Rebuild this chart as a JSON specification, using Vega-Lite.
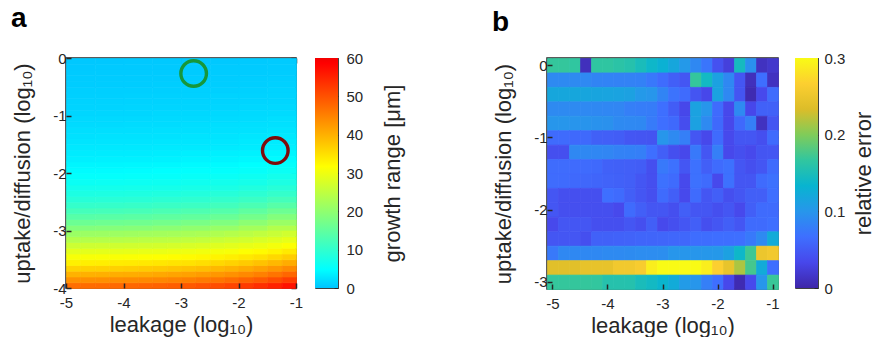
{
  "$schema": "https://vega.github.io/schema/vega-lite/v6.json",
  "padding": {"left": 10, "top": 5, "right": 0, "bottom": 0},
  "background": "white",
  "config": {
    "font": "Liberation Sans",
    "view": {"stroke": "#262626", "strokeWidth": 1.5},
    "axis": {"grid": false, "domain": false, "tickSize": -5, "tickWidth": 1.5, "tickColor": "#262626", "labelFontSize": 15, "labelColor": "#262626", "titleFontSize": 22, "titleFontWeight": "normal", "titleColor": "#262626", "labelFlush": false, "labelOverlap": false},
    "title": {"fontSize": 28, "fontWeight": "bold", "anchor": "start", "color": "black"}
  },
  "spacing": 86,
  "hconcat": [
    {
      "title": {"text": "a", "offset": 17},
      "spacing": 10,
      "hconcat": [
        {
          "width": 230,
          "height": 230,
          "layer": [
            {
              "data": {"values": [
{"x":-4.75,"y":-2.95,"v":18.6},{"x":-4.25,"y":-2.95,"v":18.8},{"x":-3.75,"y":-2.95,"v":19.1},{"x":-3.25,"y":-2.95,"v":19.6},{"x":-2.75,"y":-2.95,"v":20.1},{"x":-2.25,"y":-2.95,"v":20.8},{"x":-1.75,"y":-2.95,"v":22.1},{"x":-1.25,"y":-2.95,"v":23.7},
{"x":-4.75,"y":-2.85,"v":16.2},{"x":-4.25,"y":-2.85,"v":16.4},{"x":-3.75,"y":-2.85,"v":16.6},{"x":-3.25,"y":-2.85,"v":17.1},{"x":-2.75,"y":-2.85,"v":17.6},{"x":-2.25,"y":-2.85,"v":18.3},{"x":-1.75,"y":-2.85,"v":19.6},{"x":-1.25,"y":-2.85,"v":21.1},
{"x":-4.75,"y":-2.75,"v":14},{"x":-4.25,"y":-2.75,"v":14.2},{"x":-3.75,"y":-2.75,"v":14.4},{"x":-3.25,"y":-2.75,"v":14.8},{"x":-2.75,"y":-2.75,"v":15.2},{"x":-2.25,"y":-2.75,"v":15.9},{"x":-1.75,"y":-2.75,"v":17.1},{"x":-1.25,"y":-2.75,"v":18.6},
{"x":-4.75,"y":-2.65,"v":12},{"x":-4.25,"y":-2.65,"v":12.1},{"x":-3.75,"y":-2.65,"v":12.3},{"x":-3.25,"y":-2.65,"v":12.7},{"x":-2.75,"y":-2.65,"v":13.1},{"x":-2.25,"y":-2.65,"v":13.7},{"x":-1.75,"y":-2.65,"v":14.8},{"x":-1.25,"y":-2.65,"v":16.2},
{"x":-4.75,"y":-2.55,"v":10.3},{"x":-4.25,"y":-2.55,"v":10.4},{"x":-3.75,"y":-2.55,"v":10.6},{"x":-3.25,"y":-2.55,"v":10.9},{"x":-2.75,"y":-2.55,"v":11.2},{"x":-2.25,"y":-2.55,"v":11.8},{"x":-1.75,"y":-2.55,"v":12.7},{"x":-1.25,"y":-2.55,"v":14},
{"x":-4.75,"y":-2.45,"v":9},{"x":-4.25,"y":-2.45,"v":9.1},{"x":-3.75,"y":-2.45,"v":9.2},{"x":-3.25,"y":-2.45,"v":9.5},{"x":-2.75,"y":-2.45,"v":9.7},{"x":-2.25,"y":-2.45,"v":10.2},{"x":-1.75,"y":-2.45,"v":10.9},{"x":-1.25,"y":-2.45,"v":12},
{"x":-4.75,"y":-2.35,"v":7.8},{"x":-4.25,"y":-2.35,"v":7.9},{"x":-3.75,"y":-2.35,"v":8},{"x":-3.25,"y":-2.35,"v":8.2},{"x":-2.75,"y":-2.35,"v":8.4},{"x":-2.25,"y":-2.35,"v":8.8},{"x":-1.75,"y":-2.35,"v":9.5},{"x":-1.25,"y":-2.35,"v":10.3},
{"x":-4.75,"y":-2.25,"v":6.8},{"x":-4.25,"y":-2.25,"v":6.8},{"x":-3.75,"y":-2.25,"v":6.9},{"x":-3.25,"y":-2.25,"v":7.1},{"x":-2.75,"y":-2.25,"v":7.3},{"x":-2.25,"y":-2.25,"v":7.6},{"x":-1.75,"y":-2.25,"v":8.2},{"x":-1.25,"y":-2.25,"v":9},
{"x":-4.75,"y":-2.15,"v":5.9},{"x":-4.25,"y":-2.15,"v":6},{"x":-3.75,"y":-2.15,"v":6.1},{"x":-3.25,"y":-2.15,"v":6.2},{"x":-2.75,"y":-2.15,"v":6.4},{"x":-2.25,"y":-2.15,"v":6.7},{"x":-1.75,"y":-2.15,"v":7.1},{"x":-1.25,"y":-2.15,"v":7.8},
{"x":-4.75,"y":-2.05,"v":5.2},{"x":-4.25,"y":-2.05,"v":5.2},{"x":-3.75,"y":-2.05,"v":5.3},{"x":-3.25,"y":-2.05,"v":5.4},{"x":-2.75,"y":-2.05,"v":5.6},{"x":-2.25,"y":-2.05,"v":5.8},{"x":-1.75,"y":-2.05,"v":6.2},{"x":-1.25,"y":-2.05,"v":6.8},
{"x":-4.75,"y":-1.95,"v":4.6},{"x":-4.25,"y":-1.95,"v":4.6},{"x":-3.75,"y":-1.95,"v":4.7},{"x":-3.25,"y":-1.95,"v":4.8},{"x":-2.75,"y":-1.95,"v":4.9},{"x":-2.25,"y":-1.95,"v":5.1},{"x":-1.75,"y":-1.95,"v":5.4},{"x":-1.25,"y":-1.95,"v":5.9},
{"x":-4.75,"y":-1.85,"v":4.1},{"x":-4.25,"y":-1.85,"v":4.1},{"x":-3.75,"y":-1.85,"v":4.2},{"x":-3.25,"y":-1.85,"v":4.3},{"x":-2.75,"y":-1.85,"v":4.4},{"x":-2.25,"y":-1.85,"v":4.5},{"x":-1.75,"y":-1.85,"v":4.8},{"x":-1.25,"y":-1.85,"v":5.2},
{"x":-4.75,"y":-1.75,"v":3.6},{"x":-4.25,"y":-1.75,"v":3.7},{"x":-3.75,"y":-1.75,"v":3.7},{"x":-3.25,"y":-1.75,"v":3.8},{"x":-2.75,"y":-1.75,"v":3.9},{"x":-2.25,"y":-1.75,"v":4},{"x":-1.75,"y":-1.75,"v":4.3},{"x":-1.25,"y":-1.75,"v":4.6},
{"x":-4.75,"y":-1.65,"v":3.3},{"x":-4.25,"y":-1.65,"v":3.3},{"x":-3.75,"y":-1.65,"v":3.3},{"x":-3.25,"y":-1.65,"v":3.4},{"x":-2.75,"y":-1.65,"v":3.5},{"x":-2.25,"y":-1.65,"v":3.6},{"x":-1.75,"y":-1.65,"v":3.8},{"x":-1.25,"y":-1.65,"v":4.1},
{"x":-4.75,"y":-1.55,"v":3},{"x":-4.25,"y":-1.55,"v":3},{"x":-3.75,"y":-1.55,"v":3},{"x":-3.25,"y":-1.55,"v":3.1},{"x":-2.75,"y":-1.55,"v":3.1},{"x":-2.25,"y":-1.55,"v":3.2},{"x":-1.75,"y":-1.55,"v":3.4},{"x":-1.25,"y":-1.55,"v":3.6},
{"x":-4.75,"y":-1.45,"v":2.7},{"x":-4.25,"y":-1.45,"v":2.7},{"x":-3.75,"y":-1.45,"v":2.7},{"x":-3.25,"y":-1.45,"v":2.8},{"x":-2.75,"y":-1.45,"v":2.8},{"x":-2.25,"y":-1.45,"v":2.9},{"x":-1.75,"y":-1.45,"v":3.1},{"x":-1.25,"y":-1.45,"v":3.3},
{"x":-4.75,"y":-1.35,"v":2.4},{"x":-4.25,"y":-1.35,"v":2.5},{"x":-3.75,"y":-1.35,"v":2.5},{"x":-3.25,"y":-1.35,"v":2.5},{"x":-2.75,"y":-1.35,"v":2.6},{"x":-2.25,"y":-1.35,"v":2.6},{"x":-1.75,"y":-1.35,"v":2.8},{"x":-1.25,"y":-1.35,"v":3},
{"x":-4.75,"y":-1.25,"v":2.2},{"x":-4.25,"y":-1.25,"v":2.2},{"x":-3.75,"y":-1.25,"v":2.2},{"x":-3.25,"y":-1.25,"v":2.3},{"x":-2.75,"y":-1.25,"v":2.3},{"x":-2.25,"y":-1.25,"v":2.4},{"x":-1.75,"y":-1.25,"v":2.5},{"x":-1.25,"y":-1.25,"v":2.7},
{"x":-4.75,"y":-1.15,"v":1.9},{"x":-4.25,"y":-1.15,"v":1.9},{"x":-3.75,"y":-1.15,"v":2},{"x":-3.25,"y":-1.15,"v":2},{"x":-2.75,"y":-1.15,"v":2.1},{"x":-2.25,"y":-1.15,"v":2.2},{"x":-1.75,"y":-1.15,"v":2.3},{"x":-1.25,"y":-1.15,"v":2.4},
{"x":-4.75,"y":-1.05,"v":1.7},{"x":-4.25,"y":-1.05,"v":1.7},{"x":-3.75,"y":-1.05,"v":1.7},{"x":-3.25,"y":-1.05,"v":1.8},{"x":-2.75,"y":-1.05,"v":1.8},{"x":-2.25,"y":-1.05,"v":1.9},{"x":-1.75,"y":-1.05,"v":2},{"x":-1.25,"y":-1.05,"v":2.2},
{"x":-4.75,"y":-0.95,"v":1.5},{"x":-4.25,"y":-0.95,"v":1.5},{"x":-3.75,"y":-0.95,"v":1.5},{"x":-3.25,"y":-0.95,"v":1.6},{"x":-2.75,"y":-0.95,"v":1.6},{"x":-2.25,"y":-0.95,"v":1.7},{"x":-1.75,"y":-0.95,"v":1.8},{"x":-1.25,"y":-0.95,"v":1.9},
{"x":-4.75,"y":-0.85,"v":1.3},{"x":-4.25,"y":-0.85,"v":1.3},{"x":-3.75,"y":-0.85,"v":1.4},{"x":-3.25,"y":-0.85,"v":1.4},{"x":-2.75,"y":-0.85,"v":1.4},{"x":-2.25,"y":-0.85,"v":1.5},{"x":-1.75,"y":-0.85,"v":1.6},{"x":-1.25,"y":-0.85,"v":1.7},
{"x":-4.75,"y":-0.75,"v":1.2},{"x":-4.25,"y":-0.75,"v":1.2},{"x":-3.75,"y":-0.75,"v":1.2},{"x":-3.25,"y":-0.75,"v":1.2},{"x":-2.75,"y":-0.75,"v":1.3},{"x":-2.25,"y":-0.75,"v":1.3},{"x":-1.75,"y":-0.75,"v":1.4},{"x":-1.25,"y":-0.75,"v":1.5},
{"x":-4.75,"y":-0.65,"v":1},{"x":-4.25,"y":-0.65,"v":1},{"x":-3.75,"y":-0.65,"v":1.1},{"x":-3.25,"y":-0.65,"v":1.1},{"x":-2.75,"y":-0.65,"v":1.1},{"x":-2.25,"y":-0.65,"v":1.2},{"x":-1.75,"y":-0.65,"v":1.2},{"x":-1.25,"y":-0.65,"v":1.3},
{"x":-4.75,"y":-0.55,"v":0.9},{"x":-4.25,"y":-0.55,"v":0.9},{"x":-3.75,"y":-0.55,"v":0.9},{"x":-3.25,"y":-0.55,"v":0.9},{"x":-2.75,"y":-0.55,"v":1},{"x":-2.25,"y":-0.55,"v":1},{"x":-1.75,"y":-0.55,"v":1.1},{"x":-1.25,"y":-0.55,"v":1.2},
{"x":-4.75,"y":-0.45,"v":0.75},{"x":-4.25,"y":-0.45,"v":0.76},{"x":-3.75,"y":-0.45,"v":0.77},{"x":-3.25,"y":-0.45,"v":0.79},{"x":-2.75,"y":-0.45,"v":0.81},{"x":-2.25,"y":-0.45,"v":0.86},{"x":-1.75,"y":-0.45,"v":0.93},{"x":-1.25,"y":-0.45,"v":1.03},
{"x":-4.75,"y":-0.35,"v":0.65},{"x":-4.25,"y":-0.35,"v":0.66},{"x":-3.75,"y":-0.35,"v":0.67},{"x":-3.25,"y":-0.35,"v":0.69},{"x":-2.75,"y":-0.35,"v":0.71},{"x":-2.25,"y":-0.35,"v":0.74},{"x":-1.75,"y":-0.35,"v":0.79},{"x":-1.25,"y":-0.35,"v":0.88},
{"x":-4.75,"y":-0.25,"v":0.55},{"x":-4.25,"y":-0.25,"v":0.56},{"x":-3.75,"y":-0.25,"v":0.57},{"x":-3.25,"y":-0.25,"v":0.59},{"x":-2.75,"y":-0.25,"v":0.61},{"x":-2.25,"y":-0.25,"v":0.64},{"x":-1.75,"y":-0.25,"v":0.69},{"x":-1.25,"y":-0.25,"v":0.75},
{"x":-4.75,"y":-0.15,"v":0.45},{"x":-4.25,"y":-0.15,"v":0.46},{"x":-3.75,"y":-0.15,"v":0.47},{"x":-3.25,"y":-0.15,"v":0.49},{"x":-2.75,"y":-0.15,"v":0.51},{"x":-2.25,"y":-0.15,"v":0.54},{"x":-1.75,"y":-0.15,"v":0.59},{"x":-1.25,"y":-0.15,"v":0.65},
{"x":-4.75,"y":-0.05,"v":0.35},{"x":-4.25,"y":-0.05,"v":0.36},{"x":-3.75,"y":-0.05,"v":0.37},{"x":-3.25,"y":-0.05,"v":0.39},{"x":-2.75,"y":-0.05,"v":0.41},{"x":-2.25,"y":-0.05,"v":0.44},{"x":-1.75,"y":-0.05,"v":0.49},{"x":-1.25,"y":-0.05,"v":0.55}
              ]},
              "mark": {"type": "rect", "binSpacing": 0, "strokeWidth": 0.7},
              "encoding": {
                "x": {"field": "x", "type": "quantitative", "bin": {"step": 0.5, "anchor": -5, "extent": [-5.5, -0.5]}, "scale": {"domain": [-5, -1], "nice": false, "zero": false}, "axis": {"values": [-5, -4, -3, -2, -1], "title": "leakage (log₁₀)", "labelExpr": "'' + datum.value", "labelPadding": 12, "titlePadding": 4}},
                "y": {"field": "y", "type": "quantitative", "bin": {"step": 0.1, "anchor": -4, "extent": [-4.2, 0.2]}, "scale": {"domain": [-4, 0], "nice": false, "zero": false}, "axis": {"values": [-4, -3, -2, -1, 0], "title": "uptake/diffusion (log₁₀)", "labelExpr": "'' + datum.value", "labelPadding": 5, "titlePadding": 18}},
                "color": {"field": "v", "type": "quantitative", "scale": {"domain": [0, 4.84, 31.7, 58.6, 60], "range": ["#00c4ff", "#00ffff", "#ffff00", "#ff0000", "#f20000"], "interpolate": "rgb"}, "legend": null},
                "stroke": {"field": "v", "type": "quantitative", "scale": {"domain": [0, 4.84, 31.7, 58.6, 60], "range": ["#00c4ff", "#00ffff", "#ffff00", "#ff0000", "#f20000"], "interpolate": "rgb"}, "legend": null}
              }
            },
            {
              "data": {"values": [
{"x":-4.875,"y":-3.95,"v":47},{"x":-4.625,"y":-3.95,"v":47.2},{"x":-4.375,"y":-3.95,"v":47.3},{"x":-4.125,"y":-3.95,"v":47.5},{"x":-3.875,"y":-3.95,"v":47.7},{"x":-3.625,"y":-3.95,"v":48},{"x":-3.375,"y":-3.95,"v":48.3},{"x":-3.125,"y":-3.95,"v":48.7},{"x":-2.875,"y":-3.95,"v":49.2},{"x":-2.625,"y":-3.95,"v":49.8},{"x":-2.375,"y":-3.95,"v":50.5},{"x":-2.125,"y":-3.95,"v":51.3},{"x":-1.875,"y":-3.95,"v":52.4},{"x":-1.625,"y":-3.95,"v":53.6},{"x":-1.375,"y":-3.95,"v":55},{"x":-1.125,"y":-3.95,"v":56.7},
{"x":-4.875,"y":-3.85,"v":43.3},{"x":-4.625,"y":-3.85,"v":43.4},{"x":-4.375,"y":-3.85,"v":43.5},{"x":-4.125,"y":-3.85,"v":43.7},{"x":-3.875,"y":-3.85,"v":43.9},{"x":-3.625,"y":-3.85,"v":44.1},{"x":-3.375,"y":-3.85,"v":44.4},{"x":-3.125,"y":-3.85,"v":44.8},{"x":-2.875,"y":-3.85,"v":45.2},{"x":-2.625,"y":-3.85,"v":45.7},{"x":-2.375,"y":-3.85,"v":46.3},{"x":-2.125,"y":-3.85,"v":47.1},{"x":-1.875,"y":-3.85,"v":48},{"x":-1.625,"y":-3.85,"v":49.1},{"x":-1.375,"y":-3.85,"v":50.5},{"x":-1.125,"y":-3.85,"v":52.2},
{"x":-4.875,"y":-3.75,"v":39.8},{"x":-4.625,"y":-3.75,"v":39.9},{"x":-4.375,"y":-3.75,"v":40},{"x":-4.125,"y":-3.75,"v":40.2},{"x":-3.875,"y":-3.75,"v":40.4},{"x":-3.625,"y":-3.75,"v":40.6},{"x":-3.375,"y":-3.75,"v":40.9},{"x":-3.125,"y":-3.75,"v":41.3},{"x":-2.875,"y":-3.75,"v":41.6},{"x":-2.625,"y":-3.75,"v":42.1},{"x":-2.375,"y":-3.75,"v":42.7},{"x":-2.125,"y":-3.75,"v":43.3},{"x":-1.875,"y":-3.75,"v":44.1},{"x":-1.625,"y":-3.75,"v":45.1},{"x":-1.375,"y":-3.75,"v":46.4},{"x":-1.125,"y":-3.75,"v":47.8},
{"x":-4.875,"y":-3.65,"v":36.3},{"x":-4.625,"y":-3.65,"v":36.4},{"x":-4.375,"y":-3.65,"v":36.6},{"x":-4.125,"y":-3.65,"v":36.7},{"x":-3.875,"y":-3.65,"v":36.9},{"x":-3.625,"y":-3.65,"v":37.2},{"x":-3.375,"y":-3.65,"v":37.4},{"x":-3.125,"y":-3.65,"v":37.8},{"x":-2.875,"y":-3.65,"v":38.1},{"x":-2.625,"y":-3.65,"v":38.6},{"x":-2.375,"y":-3.65,"v":39.2},{"x":-2.125,"y":-3.65,"v":39.8},{"x":-1.875,"y":-3.65,"v":40.6},{"x":-1.625,"y":-3.65,"v":41.6},{"x":-1.375,"y":-3.65,"v":42.7},{"x":-1.125,"y":-3.65,"v":44},
{"x":-4.875,"y":-3.55,"v":33.3},{"x":-4.625,"y":-3.55,"v":33.4},{"x":-4.375,"y":-3.55,"v":33.5},{"x":-4.125,"y":-3.55,"v":33.7},{"x":-3.875,"y":-3.55,"v":33.8},{"x":-3.625,"y":-3.55,"v":34},{"x":-3.375,"y":-3.55,"v":34.2},{"x":-3.125,"y":-3.55,"v":34.5},{"x":-2.875,"y":-3.55,"v":34.8},{"x":-2.625,"y":-3.55,"v":35.2},{"x":-2.375,"y":-3.55,"v":35.8},{"x":-2.125,"y":-3.55,"v":36.4},{"x":-1.875,"y":-3.55,"v":37.2},{"x":-1.625,"y":-3.55,"v":38.1},{"x":-1.375,"y":-3.55,"v":39.2},{"x":-1.125,"y":-3.55,"v":40.5},
{"x":-4.875,"y":-3.45,"v":30.9},{"x":-4.625,"y":-3.45,"v":31},{"x":-4.375,"y":-3.45,"v":31.1},{"x":-4.125,"y":-3.45,"v":31.2},{"x":-3.875,"y":-3.45,"v":31.3},{"x":-3.625,"y":-3.45,"v":31.5},{"x":-3.375,"y":-3.45,"v":31.6},{"x":-3.125,"y":-3.45,"v":31.9},{"x":-2.875,"y":-3.45,"v":32.1},{"x":-2.625,"y":-3.45,"v":32.4},{"x":-2.375,"y":-3.45,"v":32.9},{"x":-2.125,"y":-3.45,"v":33.4},{"x":-1.875,"y":-3.45,"v":34},{"x":-1.625,"y":-3.45,"v":34.8},{"x":-1.375,"y":-3.45,"v":35.8},{"x":-1.125,"y":-3.45,"v":37},
{"x":-4.875,"y":-3.35,"v":28.7},{"x":-4.625,"y":-3.35,"v":28.8},{"x":-4.375,"y":-3.35,"v":28.9},{"x":-4.125,"y":-3.35,"v":29},{"x":-3.875,"y":-3.35,"v":29.1},{"x":-3.625,"y":-3.35,"v":29.3},{"x":-3.375,"y":-3.35,"v":29.4},{"x":-3.125,"y":-3.35,"v":29.7},{"x":-2.875,"y":-3.35,"v":29.9},{"x":-2.625,"y":-3.35,"v":30.2},{"x":-2.375,"y":-3.35,"v":30.5},{"x":-2.125,"y":-3.35,"v":30.9},{"x":-1.875,"y":-3.35,"v":31.5},{"x":-1.625,"y":-3.35,"v":32.1},{"x":-1.375,"y":-3.35,"v":32.9},{"x":-1.125,"y":-3.35,"v":33.9},
{"x":-4.875,"y":-3.25,"v":26.3},{"x":-4.625,"y":-3.25,"v":26.4},{"x":-4.375,"y":-3.25,"v":26.5},{"x":-4.125,"y":-3.25,"v":26.6},{"x":-3.875,"y":-3.25,"v":26.7},{"x":-3.625,"y":-3.25,"v":26.9},{"x":-3.375,"y":-3.25,"v":27.1},{"x":-3.125,"y":-3.25,"v":27.3},{"x":-2.875,"y":-3.25,"v":27.6},{"x":-2.625,"y":-3.25,"v":27.9},{"x":-2.375,"y":-3.25,"v":28.3},{"x":-2.125,"y":-3.25,"v":28.7},{"x":-1.875,"y":-3.25,"v":29.3},{"x":-1.625,"y":-3.25,"v":29.8},{"x":-1.375,"y":-3.25,"v":30.5},{"x":-1.125,"y":-3.25,"v":31.4},
{"x":-4.875,"y":-3.15,"v":23.7},{"x":-4.625,"y":-3.15,"v":23.8},{"x":-4.375,"y":-3.15,"v":23.9},{"x":-4.125,"y":-3.15,"v":24},{"x":-3.875,"y":-3.15,"v":24.2},{"x":-3.625,"y":-3.15,"v":24.4},{"x":-3.375,"y":-3.15,"v":24.6},{"x":-3.125,"y":-3.15,"v":24.8},{"x":-2.875,"y":-3.15,"v":25.1},{"x":-2.625,"y":-3.15,"v":25.4},{"x":-2.375,"y":-3.15,"v":25.9},{"x":-2.125,"y":-3.15,"v":26.4},{"x":-1.875,"y":-3.15,"v":26.9},{"x":-1.625,"y":-3.15,"v":27.6},{"x":-1.375,"y":-3.15,"v":28.3},{"x":-1.125,"y":-3.15,"v":29.2},
{"x":-4.875,"y":-3.05,"v":21.1},{"x":-4.625,"y":-3.05,"v":21.2},{"x":-4.375,"y":-3.05,"v":21.3},{"x":-4.125,"y":-3.05,"v":21.4},{"x":-3.875,"y":-3.05,"v":21.6},{"x":-3.625,"y":-3.05,"v":21.8},{"x":-3.375,"y":-3.05,"v":22},{"x":-3.125,"y":-3.05,"v":22.2},{"x":-2.875,"y":-3.05,"v":22.5},{"x":-2.625,"y":-3.05,"v":22.8},{"x":-2.375,"y":-3.05,"v":23.3},{"x":-2.125,"y":-3.05,"v":23.8},{"x":-1.875,"y":-3.05,"v":24.4},{"x":-1.625,"y":-3.05,"v":25.1},{"x":-1.375,"y":-3.05,"v":25.9},{"x":-1.125,"y":-3.05,"v":26.8}
              ]},
              "mark": {"type": "rect", "binSpacing": 0, "strokeWidth": 0.7},
              "encoding": {
                "x": {"field": "x", "type": "quantitative", "bin": {"step": 0.25, "anchor": -5, "extent": [-5.5, -0.5]}, "scale": {"domain": [-5, -1], "nice": false, "zero": false}, "axis": null},
                "y": {"field": "y", "type": "quantitative", "bin": {"step": 0.1, "anchor": -4, "extent": [-4.2, 0.2]}, "scale": {"domain": [-4, 0], "nice": false, "zero": false}, "axis": null},
                "color": {"field": "v", "type": "quantitative", "scale": {"domain": [0, 4.84, 31.7, 58.6, 60], "range": ["#00c4ff", "#00ffff", "#ffff00", "#ff0000", "#f20000"], "interpolate": "rgb"}, "legend": null},
                "stroke": {"field": "v", "type": "quantitative", "scale": {"domain": [0, 4.84, 31.7, 58.6, 60], "range": ["#00c4ff", "#00ffff", "#ffff00", "#ff0000", "#f20000"], "interpolate": "rgb"}, "legend": null}
              }
            },
            {
              "data": {"values": [{"x": -2.78, "y": -0.27}]},
              "mark": {"type": "point", "shape": "circle", "filled": false, "size": 655, "strokeWidth": 3.4, "stroke": "#17973a", "opacity": 1},
              "encoding": {
                "x": {"field": "x", "type": "quantitative", "scale": {"domain": [-5, -1], "nice": false, "zero": false}, "axis": {"orient": "top", "values": [-5, -4, -3, -2, -1], "labels": false, "title": null}},
                "y": {"field": "y", "type": "quantitative", "scale": {"domain": [-4, 0], "nice": false, "zero": false}, "axis": {"orient": "right", "values": [-4, -3, -2, -1, 0], "labels": false, "title": null}}
              }
            },
            {
              "data": {"values": [{"x": -1.36, "y": -1.61}]},
              "mark": {"type": "point", "shape": "circle", "filled": false, "size": 655, "strokeWidth": 3.4, "stroke": "#7e0b0b", "opacity": 1},
              "encoding": {
                "x": {"field": "x", "type": "quantitative", "scale": {"domain": [-5, -1], "nice": false, "zero": false}, "axis": null},
                "y": {"field": "y", "type": "quantitative", "scale": {"domain": [-4, 0], "nice": false, "zero": false}, "axis": null}
              }
            }
          ],
          "resolve": {"axis": {"x": "independent", "y": "independent"}}
        },
        {
          "width": 23,
          "height": 230,
          "view": {"stroke": "#404040", "strokeWidth": 1},
          "data": {"values": [{"lo": 0, "hi": 60}]},
          "mark": {"type": "rect", "color": {"gradient": "linear", "x1": 0, "y1": 1, "x2": 0, "y2": 0, "stops": [{"offset": 0, "color": "#00c4ff"}, {"offset": 0.0807, "color": "#00ffff"}, {"offset": 0.5283, "color": "#ffff00"}, {"offset": 0.9767, "color": "#ff0000"}, {"offset": 1, "color": "#f20000"}]}},
          "encoding": {
            "y": {"field": "lo", "type": "quantitative", "scale": {"domain": [0, 60], "nice": false, "zero": false}, "axis": {"orient": "right", "values": [0, 10, 20, 30, 40, 50, 60], "title": "growth range [μm]", "titleAngle": 270, "titleBaseline": "top", "titleAlign": "center", "tickSize": -4, "tickWidth": 1, "labelPadding": 12, "titlePadding": 20}},
            "y2": {"field": "hi"}
          }
        }
      ]
    },
    {
      "title": {"text": "b", "offset": 14},
      "spacing": 14,
      "hconcat": [
        {
          "width": 231,
          "height": 231,
          "data": {"values": [
{"x":-5,"y":0,"v":0.168},{"x":-4.8,"y":0,"v":0.168},{"x":-4.6,"y":0,"v":0.166},{"x":-4.4,"y":0,"v":0.01},{"x":-4.2,"y":0,"v":0.165},{"x":-4,"y":0,"v":0.165},{"x":-3.8,"y":0,"v":0.162},{"x":-3.6,"y":0,"v":0.158},{"x":-3.4,"y":0,"v":0.148},{"x":-3.2,"y":0,"v":0.138},{"x":-3,"y":0,"v":0.13},{"x":-2.8,"y":0,"v":0.118},{"x":-2.6,"y":0,"v":0.103},{"x":-2.4,"y":0,"v":0.088},{"x":-2.2,"y":0,"v":0.072},{"x":-2,"y":0,"v":0.042},{"x":-1.8,"y":0,"v":0.026},{"x":-1.6,"y":0,"v":0.145},{"x":-1.4,"y":0,"v":0.095},{"x":-1.2,"y":0,"v":0.012},{"x":-1,"y":0,"v":0.018},
{"x":-5,"y":-0.2,"v":0.09},{"x":-4.8,"y":-0.2,"v":0.09},{"x":-4.6,"y":-0.2,"v":0.09},{"x":-4.4,"y":-0.2,"v":0.089},{"x":-4.2,"y":-0.2,"v":0.085},{"x":-4,"y":-0.2,"v":0.084},{"x":-3.8,"y":-0.2,"v":0.083},{"x":-3.6,"y":-0.2,"v":0.083},{"x":-3.4,"y":-0.2,"v":0.082},{"x":-3.2,"y":-0.2,"v":0.074},{"x":-3,"y":-0.2,"v":0.064},{"x":-2.8,"y":-0.2,"v":0.053},{"x":-2.6,"y":-0.2,"v":0.046},{"x":-2.4,"y":-0.2,"v":0.168},{"x":-2.2,"y":-0.2,"v":0.142},{"x":-2,"y":-0.2,"v":0.112},{"x":-1.8,"y":-0.2,"v":0.088},{"x":-1.6,"y":-0.2,"v":0.046},{"x":-1.4,"y":-0.2,"v":0.01},{"x":-1.2,"y":-0.2,"v":0.066},{"x":-1,"y":-0.2,"v":0.012},
{"x":-5,"y":-0.4,"v":0.118},{"x":-4.8,"y":-0.4,"v":0.118},{"x":-4.6,"y":-0.4,"v":0.118},{"x":-4.4,"y":-0.4,"v":0.117},{"x":-4.2,"y":-0.4,"v":0.116},{"x":-4,"y":-0.4,"v":0.115},{"x":-3.8,"y":-0.4,"v":0.114},{"x":-3.6,"y":-0.4,"v":0.112},{"x":-3.4,"y":-0.4,"v":0.103},{"x":-3.2,"y":-0.4,"v":0.1},{"x":-3,"y":-0.4,"v":0.085},{"x":-2.8,"y":-0.4,"v":0.07},{"x":-2.6,"y":-0.4,"v":0.063},{"x":-2.4,"y":-0.4,"v":0.045},{"x":-2.2,"y":-0.4,"v":0.033},{"x":-2,"y":-0.4,"v":0.113},{"x":-1.8,"y":-0.4,"v":0.088},{"x":-1.6,"y":-0.4,"v":0.045},{"x":-1.4,"y":-0.4,"v":0.005},{"x":-1.2,"y":-0.4,"v":0.035},{"x":-1,"y":-0.4,"v":0.064},
{"x":-5,"y":-0.6,"v":0.09},{"x":-4.8,"y":-0.6,"v":0.09},{"x":-4.6,"y":-0.6,"v":0.09},{"x":-4.4,"y":-0.6,"v":0.089},{"x":-4.2,"y":-0.6,"v":0.088},{"x":-4,"y":-0.6,"v":0.087},{"x":-3.8,"y":-0.6,"v":0.086},{"x":-3.6,"y":-0.6,"v":0.08},{"x":-3.4,"y":-0.6,"v":0.079},{"x":-3.2,"y":-0.6,"v":0.078},{"x":-3,"y":-0.6,"v":0.067},{"x":-2.8,"y":-0.6,"v":0.052},{"x":-2.6,"y":-0.6,"v":0.033},{"x":-2.4,"y":-0.6,"v":0.113},{"x":-2.2,"y":-0.6,"v":0.1},{"x":-2,"y":-0.6,"v":0.063},{"x":-1.8,"y":-0.6,"v":0.034},{"x":-1.6,"y":-0.6,"v":0.09},{"x":-1.4,"y":-0.6,"v":0.033},{"x":-1.2,"y":-0.6,"v":0.055},{"x":-1,"y":-0.6,"v":0.055},
{"x":-5,"y":-0.8,"v":0.1},{"x":-4.8,"y":-0.8,"v":0.1},{"x":-4.6,"y":-0.8,"v":0.099},{"x":-4.4,"y":-0.8,"v":0.098},{"x":-4.2,"y":-0.8,"v":0.097},{"x":-4,"y":-0.8,"v":0.096},{"x":-3.8,"y":-0.8,"v":0.09},{"x":-3.6,"y":-0.8,"v":0.089},{"x":-3.4,"y":-0.8,"v":0.088},{"x":-3.2,"y":-0.8,"v":0.077},{"x":-3,"y":-0.8,"v":0.067},{"x":-2.8,"y":-0.8,"v":0.062},{"x":-2.6,"y":-0.8,"v":0.038},{"x":-2.4,"y":-0.8,"v":0.112},{"x":-2.2,"y":-0.8,"v":0.09},{"x":-2,"y":-0.8,"v":0.062},{"x":-1.8,"y":-0.8,"v":0.034},{"x":-1.6,"y":-0.8,"v":0.062},{"x":-1.4,"y":-0.8,"v":0.08},{"x":-1.2,"y":-0.8,"v":0.012},{"x":-1,"y":-0.8,"v":0.045},
{"x":-5,"y":-1,"v":0.063},{"x":-4.8,"y":-1,"v":0.063},{"x":-4.6,"y":-1,"v":0.062},{"x":-4.4,"y":-1,"v":0.062},{"x":-4.2,"y":-1,"v":0.054},{"x":-4,"y":-1,"v":0.053},{"x":-3.8,"y":-1,"v":0.052},{"x":-3.6,"y":-1,"v":0.046},{"x":-3.4,"y":-1,"v":0.045},{"x":-3.2,"y":-1,"v":0.044},{"x":-3,"y":-1,"v":0.1},{"x":-2.8,"y":-1,"v":0.09},{"x":-2.6,"y":-1,"v":0.08},{"x":-2.4,"y":-1,"v":0.046},{"x":-2.2,"y":-1,"v":0.034},{"x":-2,"y":-1,"v":0.063},{"x":-1.8,"y":-1,"v":0.035},{"x":-1.6,"y":-1,"v":0.046},{"x":-1.4,"y":-1,"v":0.046},{"x":-1.2,"y":-1,"v":0.04},{"x":-1,"y":-1,"v":0.063},
{"x":-5,"y":-1.2,"v":0.04},{"x":-4.8,"y":-1.2,"v":0.04},{"x":-4.6,"y":-1.2,"v":0.088},{"x":-4.4,"y":-1.2,"v":0.088},{"x":-4.2,"y":-1.2,"v":0.087},{"x":-4,"y":-1.2,"v":0.086},{"x":-3.8,"y":-1.2,"v":0.083},{"x":-3.6,"y":-1.2,"v":0.082},{"x":-3.4,"y":-1.2,"v":0.08},{"x":-3.2,"y":-1.2,"v":0.067},{"x":-3,"y":-1.2,"v":0.053},{"x":-2.8,"y":-1.2,"v":0.04},{"x":-2.6,"y":-1.2,"v":0.034},{"x":-2.4,"y":-1.2,"v":0.075},{"x":-2.2,"y":-1.2,"v":0.046},{"x":-2,"y":-1.2,"v":0.08},{"x":-1.8,"y":-1.2,"v":0.034},{"x":-1.6,"y":-1.2,"v":0.04},{"x":-1.4,"y":-1.2,"v":0.035},{"x":-1.2,"y":-1.2,"v":0.045},{"x":-1,"y":-1.2,"v":0.046},
{"x":-5,"y":-1.4,"v":0.064},{"x":-4.8,"y":-1.4,"v":0.064},{"x":-4.6,"y":-1.4,"v":0.063},{"x":-4.4,"y":-1.4,"v":0.063},{"x":-4.2,"y":-1.4,"v":0.062},{"x":-4,"y":-1.4,"v":0.055},{"x":-3.8,"y":-1.4,"v":0.054},{"x":-3.6,"y":-1.4,"v":0.053},{"x":-3.4,"y":-1.4,"v":0.052},{"x":-3.2,"y":-1.4,"v":0.04},{"x":-3,"y":-1.4,"v":0.075},{"x":-2.8,"y":-1.4,"v":0.068},{"x":-2.6,"y":-1.4,"v":0.046},{"x":-2.4,"y":-1.4,"v":0.068},{"x":-2.2,"y":-1.4,"v":0.053},{"x":-2,"y":-1.4,"v":0.063},{"x":-1.8,"y":-1.4,"v":0.068},{"x":-1.6,"y":-1.4,"v":0.046},{"x":-1.4,"y":-1.4,"v":0.04},{"x":-1.2,"y":-1.4,"v":0.046},{"x":-1,"y":-1.4,"v":0.063},
{"x":-5,"y":-1.6,"v":0.064},{"x":-4.8,"y":-1.6,"v":0.063},{"x":-4.6,"y":-1.6,"v":0.062},{"x":-4.4,"y":-1.6,"v":0.06},{"x":-4.2,"y":-1.6,"v":0.058},{"x":-4,"y":-1.6,"v":0.057},{"x":-3.8,"y":-1.6,"v":0.055},{"x":-3.6,"y":-1.6,"v":0.053},{"x":-3.4,"y":-1.6,"v":0.046},{"x":-3.2,"y":-1.6,"v":0.04},{"x":-3,"y":-1.6,"v":0.068},{"x":-2.8,"y":-1.6,"v":0.063},{"x":-2.6,"y":-1.6,"v":0.035},{"x":-2.4,"y":-1.6,"v":0.068},{"x":-2.2,"y":-1.6,"v":0.063},{"x":-2,"y":-1.6,"v":0.035},{"x":-1.8,"y":-1.6,"v":0.068},{"x":-1.6,"y":-1.6,"v":0.046},{"x":-1.4,"y":-1.6,"v":0.046},{"x":-1.2,"y":-1.6,"v":0.063},{"x":-1,"y":-1.6,"v":0.068},
{"x":-5,"y":-1.8,"v":0.046},{"x":-4.8,"y":-1.8,"v":0.04},{"x":-4.6,"y":-1.8,"v":0.04},{"x":-4.4,"y":-1.8,"v":0.04},{"x":-4.2,"y":-1.8,"v":0.04},{"x":-4,"y":-1.8,"v":0.067},{"x":-3.8,"y":-1.8,"v":0.063},{"x":-3.6,"y":-1.8,"v":0.053},{"x":-3.4,"y":-1.8,"v":0.046},{"x":-3.2,"y":-1.8,"v":0.04},{"x":-3,"y":-1.8,"v":0.063},{"x":-2.8,"y":-1.8,"v":0.053},{"x":-2.6,"y":-1.8,"v":0.035},{"x":-2.4,"y":-1.8,"v":0.063},{"x":-2.2,"y":-1.8,"v":0.046},{"x":-2,"y":-1.8,"v":0.053},{"x":-1.8,"y":-1.8,"v":0.04},{"x":-1.6,"y":-1.8,"v":0.046},{"x":-1.4,"y":-1.8,"v":0.053},{"x":-1.2,"y":-1.8,"v":0.053},{"x":-1,"y":-1.8,"v":0.067},
{"x":-5,"y":-2,"v":0.046},{"x":-4.8,"y":-2,"v":0.04},{"x":-4.6,"y":-2,"v":0.04},{"x":-4.4,"y":-2,"v":0.04},{"x":-4.2,"y":-2,"v":0.04},{"x":-4,"y":-2,"v":0.04},{"x":-3.8,"y":-2,"v":0.035},{"x":-3.6,"y":-2,"v":0.063},{"x":-3.4,"y":-2,"v":0.053},{"x":-3.2,"y":-2,"v":0.046},{"x":-3,"y":-2,"v":0.046},{"x":-2.8,"y":-2,"v":0.04},{"x":-2.6,"y":-2,"v":0.053},{"x":-2.4,"y":-2,"v":0.046},{"x":-2.2,"y":-2,"v":0.046},{"x":-2,"y":-2,"v":0.04},{"x":-1.8,"y":-2,"v":0.046},{"x":-1.6,"y":-2,"v":0.035},{"x":-1.4,"y":-2,"v":0.053},{"x":-1.2,"y":-2,"v":0.063},{"x":-1,"y":-2,"v":0.063},
{"x":-5,"y":-2.2,"v":0.035},{"x":-4.8,"y":-2.2,"v":0.046},{"x":-4.6,"y":-2.2,"v":0.046},{"x":-4.4,"y":-2.2,"v":0.046},{"x":-4.2,"y":-2.2,"v":0.04},{"x":-4,"y":-2.2,"v":0.04},{"x":-3.8,"y":-2.2,"v":0.04},{"x":-3.6,"y":-2.2,"v":0.046},{"x":-3.4,"y":-2.2,"v":0.04},{"x":-3.2,"y":-2.2,"v":0.053},{"x":-3,"y":-2.2,"v":0.035},{"x":-2.8,"y":-2.2,"v":0.04},{"x":-2.6,"y":-2.2,"v":0.046},{"x":-2.4,"y":-2.2,"v":0.053},{"x":-2.2,"y":-2.2,"v":0.04},{"x":-2,"y":-2.2,"v":0.046},{"x":-1.8,"y":-2.2,"v":0.053},{"x":-1.6,"y":-2.2,"v":0.046},{"x":-1.4,"y":-2.2,"v":0.063},{"x":-1.2,"y":-2.2,"v":0.063},{"x":-1,"y":-2.2,"v":0.067},
{"x":-5,"y":-2.4,"v":0.046},{"x":-4.8,"y":-2.4,"v":0.046},{"x":-4.6,"y":-2.4,"v":0.046},{"x":-4.4,"y":-2.4,"v":0.04},{"x":-4.2,"y":-2.4,"v":0.055},{"x":-4,"y":-2.4,"v":0.055},{"x":-3.8,"y":-2.4,"v":0.056},{"x":-3.6,"y":-2.4,"v":0.057},{"x":-3.4,"y":-2.4,"v":0.058},{"x":-3.2,"y":-2.4,"v":0.058},{"x":-3,"y":-2.4,"v":0.059},{"x":-2.8,"y":-2.4,"v":0.06},{"x":-2.6,"y":-2.4,"v":0.06},{"x":-2.4,"y":-2.4,"v":0.065},{"x":-2.2,"y":-2.4,"v":0.065},{"x":-2,"y":-2.4,"v":0.066},{"x":-1.8,"y":-2.4,"v":0.066},{"x":-1.6,"y":-2.4,"v":0.067},{"x":-1.4,"y":-2.4,"v":0.075},{"x":-1.2,"y":-2.4,"v":0.09},{"x":-1,"y":-2.4,"v":0.123},
{"x":-5,"y":-2.6,"v":0.075},{"x":-4.8,"y":-2.6,"v":0.088},{"x":-4.6,"y":-2.6,"v":0.088},{"x":-4.4,"y":-2.6,"v":0.088},{"x":-4.2,"y":-2.6,"v":0.088},{"x":-4,"y":-2.6,"v":0.09},{"x":-3.8,"y":-2.6,"v":0.09},{"x":-3.6,"y":-2.6,"v":0.091},{"x":-3.4,"y":-2.6,"v":0.092},{"x":-3.2,"y":-2.6,"v":0.092},{"x":-3,"y":-2.6,"v":0.093},{"x":-2.8,"y":-2.6,"v":0.1},{"x":-2.6,"y":-2.6,"v":0.1},{"x":-2.4,"y":-2.6,"v":0.1},{"x":-2.2,"y":-2.6,"v":0.101},{"x":-2,"y":-2.6,"v":0.102},{"x":-1.8,"y":-2.6,"v":0.112},{"x":-1.6,"y":-2.6,"v":0.138},{"x":-1.4,"y":-2.6,"v":0.172},{"x":-1.2,"y":-2.6,"v":0.25},{"x":-1,"y":-2.6,"v":0.256},
{"x":-5,"y":-2.8,"v":0.238},{"x":-4.8,"y":-2.8,"v":0.238},{"x":-4.6,"y":-2.8,"v":0.238},{"x":-4.4,"y":-2.8,"v":0.245},{"x":-4.2,"y":-2.8,"v":0.245},{"x":-4,"y":-2.8,"v":0.245},{"x":-3.8,"y":-2.8,"v":0.255},{"x":-3.6,"y":-2.8,"v":0.255},{"x":-3.4,"y":-2.8,"v":0.262},{"x":-3.2,"y":-2.8,"v":0.29},{"x":-3,"y":-2.8,"v":0.3},{"x":-2.8,"y":-2.8,"v":0.3},{"x":-2.6,"y":-2.8,"v":0.3},{"x":-2.4,"y":-2.8,"v":0.3},{"x":-2.2,"y":-2.8,"v":0.29},{"x":-2,"y":-2.8,"v":0.267},{"x":-1.8,"y":-2.8,"v":0.246},{"x":-1.6,"y":-2.8,"v":0.216},{"x":-1.4,"y":-2.8,"v":0.175},{"x":-1.2,"y":-2.8,"v":0.123},{"x":-1,"y":-2.8,"v":0.067},
{"x":-5,"y":-3,"v":0.168},{"x":-4.8,"y":-3,"v":0.168},{"x":-4.6,"y":-3,"v":0.168},{"x":-4.4,"y":-3,"v":0.168},{"x":-4.2,"y":-3,"v":0.167},{"x":-4,"y":-3,"v":0.158},{"x":-3.8,"y":-3,"v":0.158},{"x":-3.6,"y":-3,"v":0.157},{"x":-3.4,"y":-3,"v":0.148},{"x":-3.2,"y":-3,"v":0.142},{"x":-3,"y":-3,"v":0.135},{"x":-2.8,"y":-3,"v":0.123},{"x":-2.6,"y":-3,"v":0.105},{"x":-2.4,"y":-3,"v":0.1},{"x":-2.2,"y":-3,"v":0.08},{"x":-2,"y":-3,"v":0.067},{"x":-1.8,"y":-3,"v":0.034},{"x":-1.6,"y":-3,"v":0.005},{"x":-1.4,"y":-3,"v":0.035},{"x":-1.2,"y":-3,"v":0.1},{"x":-1,"y":-3,"v":0.17}
          ]},
          "layer": [
            {
              "mark": {"type": "rect", "binSpacing": 0, "strokeWidth": 0.7},
              "encoding": {
                "x": {"field": "x", "type": "quantitative", "bin": {"step": 0.2, "anchor": -5.1, "extent": [-5.4, -0.6]}, "scale": {"domain": [-5.1, -0.9], "nice": false, "zero": false}, "axis": {"values": [-5, -4, -3, -2, -1], "title": "leakage (log₁₀)", "labelExpr": "'' + datum.value", "labelPadding": 12, "titlePadding": 4}},
                "y": {"field": "y", "type": "quantitative", "bin": {"step": 0.2, "anchor": -3.1, "extent": [-3.4, 0.4]}, "scale": {"domain": [-3.1, 0.1], "nice": false, "zero": false}, "axis": {"values": [-3, -2, -1, 0], "title": "uptake/diffusion (log₁₀)", "labelExpr": "'' + datum.value", "labelPadding": 5, "titlePadding": 18}},
                "color": {"field": "v", "type": "quantitative", "scale": {"domain": [0, 0.0333, 0.0667, 0.1, 0.1333, 0.1667, 0.2, 0.2333, 0.2667, 0.3], "range": ["#3e26a8", "#4747eb", "#3e6fff", "#2796eb", "#08b4d0", "#31c69f", "#80cc59", "#dcbd29", "#fccf30", "#f9fb15"], "interpolate": "rgb"}, "legend": null},
                "stroke": {"field": "v", "type": "quantitative", "scale": {"domain": [0, 0.0333, 0.0667, 0.1, 0.1333, 0.1667, 0.2, 0.2333, 0.2667, 0.3], "range": ["#3e26a8", "#4747eb", "#3e6fff", "#2796eb", "#08b4d0", "#31c69f", "#80cc59", "#dcbd29", "#fccf30", "#f9fb15"], "interpolate": "rgb"}, "legend": null}
              }
            },
            {
              "mark": {"type": "point", "opacity": 0},
              "encoding": {
                "x": {"field": "x", "type": "quantitative", "scale": {"domain": [-5.1, -0.9], "nice": false, "zero": false}, "axis": {"orient": "top", "values": [-5, -4, -3, -2, -1], "labels": false, "title": null}},
                "y": {"field": "y", "type": "quantitative", "scale": {"domain": [-3.1, 0.1], "nice": false, "zero": false}, "axis": {"orient": "right", "values": [-3, -2, -1, 0], "labels": false, "title": null}}
              }
            }
          ],
          "resolve": {"axis": {"x": "independent", "y": "independent"}}
        },
        {
          "width": 23,
          "height": 230,
          "view": {"stroke": "#404040", "strokeWidth": 1},
          "data": {"values": [{"lo": 0, "hi": 0.3}]},
          "mark": {"type": "rect", "color": {"gradient": "linear", "x1": 0, "y1": 1, "x2": 0, "y2": 0, "stops": [{"offset": 0, "color": "#3e26a8"}, {"offset": 0.1111, "color": "#4747eb"}, {"offset": 0.2222, "color": "#3e6fff"}, {"offset": 0.3333, "color": "#2796eb"}, {"offset": 0.4444, "color": "#08b4d0"}, {"offset": 0.5556, "color": "#31c69f"}, {"offset": 0.6667, "color": "#80cc59"}, {"offset": 0.7778, "color": "#dcbd29"}, {"offset": 0.8889, "color": "#fccf30"}, {"offset": 1, "color": "#f9fb15"}]}},
          "encoding": {
            "y": {"field": "lo", "type": "quantitative", "scale": {"domain": [0, 0.3], "nice": false, "zero": false}, "axis": {"orient": "right", "values": [0, 0.1, 0.2, 0.3], "labelExpr": "'' + datum.value", "title": "relative error", "titleAngle": 270, "titleBaseline": "top", "titleAlign": "center", "tickSize": -4, "tickWidth": 1, "labelPadding": 10, "titlePadding": 9}},
            "y2": {"field": "hi"}
          }
        }
      ]
    }
  ],
  "resolve": {"scale": {"color": "independent", "stroke": "independent"}}
}
